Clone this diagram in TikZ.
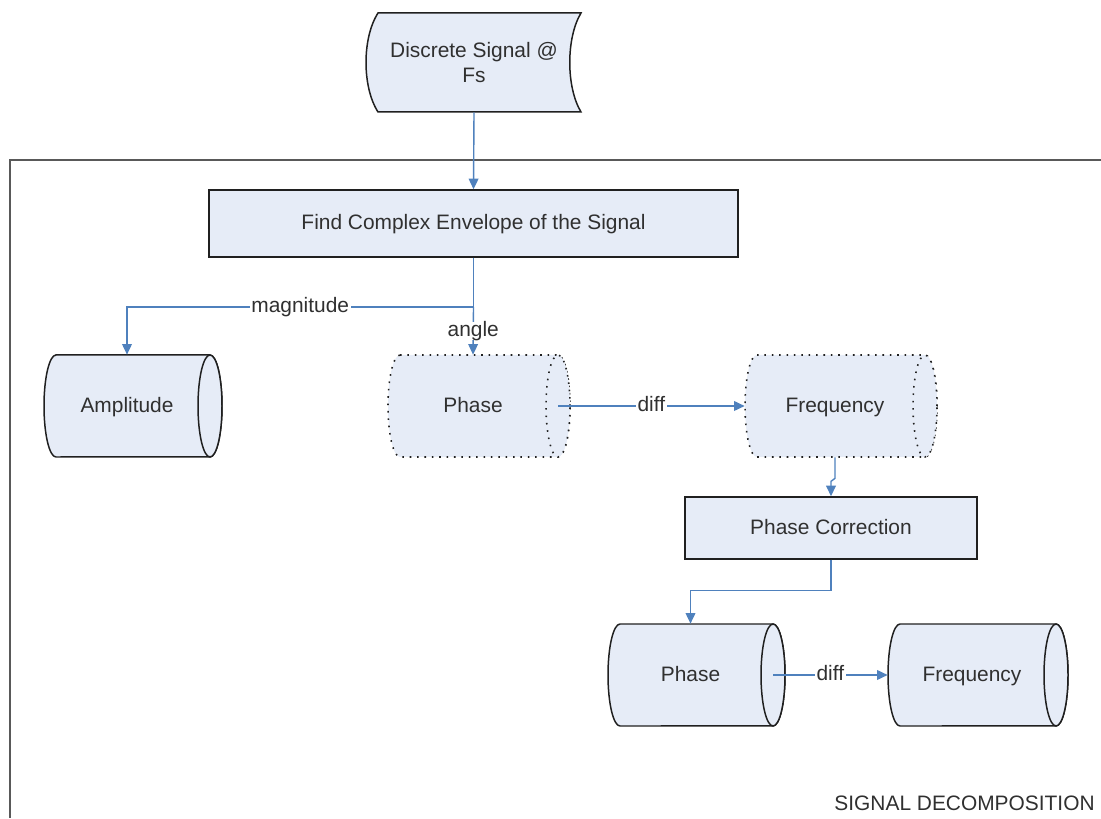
\documentclass[tikz,border=0pt]{standalone}
\usepackage{fontspec}
\setmainfont{Liberation Sans}
\usetikzlibrary{arrows.meta}
\definecolor{boxfill}{HTML}{E6ECF7}
\definecolor{arrowblue}{HTML}{4F81BD}
\definecolor{txt}{HTML}{303030}
\definecolor{edge}{HTML}{202020}
\newcommand\cylshape[4]{%
  \path[#4] ({#1-#3+12},{#2+51}) -- ({#1+#3-12},{#2+51})
    arc[start angle=90,end angle=-90,x radius=0.24cm,y radius=1.02cm]
    -- ({#1-#3+12},{#2-51})
    arc[start angle=270,end angle=90,x radius=0.24cm,y radius=1.02cm] -- cycle;
  \path[#4] ({#1+#3-12},{#2}) ellipse[x radius=0.24cm,y radius=1.02cm];
}
\tikzset{
  solidshape/.style={draw=edge,line width=0.85pt,fill=boxfill},
  dotshape/.style={draw=edge,line width=0.9pt,fill=boxfill,dash pattern=on 0.9pt off 3.3pt},
  lbl/.style={font=\fontsize{11.9}{14}\selectfont,text=txt,align=center,inner sep=0pt},
  onel/.style={lbl,text height=0.72em,text depth=0pt},
  procbox/.style={onel,draw=edge,line width=0.85pt,fill=boxfill},
  conn/.style={draw=arrowblue,line width=0.8pt,-{Triangle[length=6pt,width=5.5pt]}},
  connlbl/.style={lbl,text height=0.72em,text depth=0.1em,fill=white,inner sep=1pt},
}
\begin{document}
\begin{tikzpicture}[x=0.02cm,y=0.02cm]
\useasboundingbox (0,0) rectangle (1101,818);
% outer frame
\draw[draw=black!65,line width=1pt] (1101,658) -- (10,658) -- (10,0);
\node[onel,anchor=east] (title) at (1095,14) {SIGNAL DECOMPOSITION};
% stored data shape
\path[solidshape] (378,805) -- (581,805) .. controls (566,780) and (566,731) .. (581,706)
  -- (378,706) .. controls (362,731) and (362,780) .. (378,805) -- cycle;
\node[lbl,minimum width=4.06cm,minimum height=1.98cm] (src) at (474,755.5) {Discrete Signal @\\Fs};
% cylinders
\cylshape{133}{412}{89}{solidshape}
\cylshape{479}{412}{91}{dotshape}
\cylshape{841}{412}{96}{dotshape}
\cylshape{696.5}{143}{88.5}{solidshape}
\cylshape{978}{143}{90}{solidshape}
\node[onel,minimum width=3.32cm,minimum height=2.04cm] (amp) at (127,412) {Amplitude};
\node[onel,minimum width=3.40cm,minimum height=2.04cm] (ph1) at (473,412) {Phase};
\node[onel,minimum width=3.60cm,minimum height=2.04cm] (fr1) at (835,412) {Frequency};
\node[onel,minimum width=3.30cm,minimum height=2.04cm] (ph2) at (690.5,143) {Phase};
\node[onel,minimum width=3.36cm,minimum height=2.04cm] (fr2) at (972,143) {Frequency};
\coordinate (ph1e) at (558,412);
\coordinate (ph2e) at (773,143);
% process boxes
\node[procbox,minimum width=10.58cm,minimum height=1.34cm] (find) at (473.5,594.5) {Find Complex Envelope of the Signal};
\node[procbox,minimum width=5.84cm,minimum height=1.24cm] (pc) at (831,290) {Phase Correction};
% connectors
\coordinate (j) at (473.5,511);
\draw[conn] (src.south) -- (find.north);
\draw[draw=arrowblue,line width=0.8pt] (find.south) -- (j);
\draw[conn] (j) -| node[connlbl,pos=0.25] {magnitude} (amp.north);
\draw[conn] (j) -- node[connlbl] {angle} (ph1.north);
\draw[conn] (ph1e) -- node[connlbl] {diff} (fr1.west);
\draw[conn] (fr1.south) -- ++(0,-21) -- ++(-4,-3) -- (pc.north);
\draw[conn] (pc.south) -- ++(0,-31) -| (ph2.north);
\draw[conn] (ph2e) -- node[connlbl] {diff} (fr2.west);
\end{tikzpicture}
\end{document}
